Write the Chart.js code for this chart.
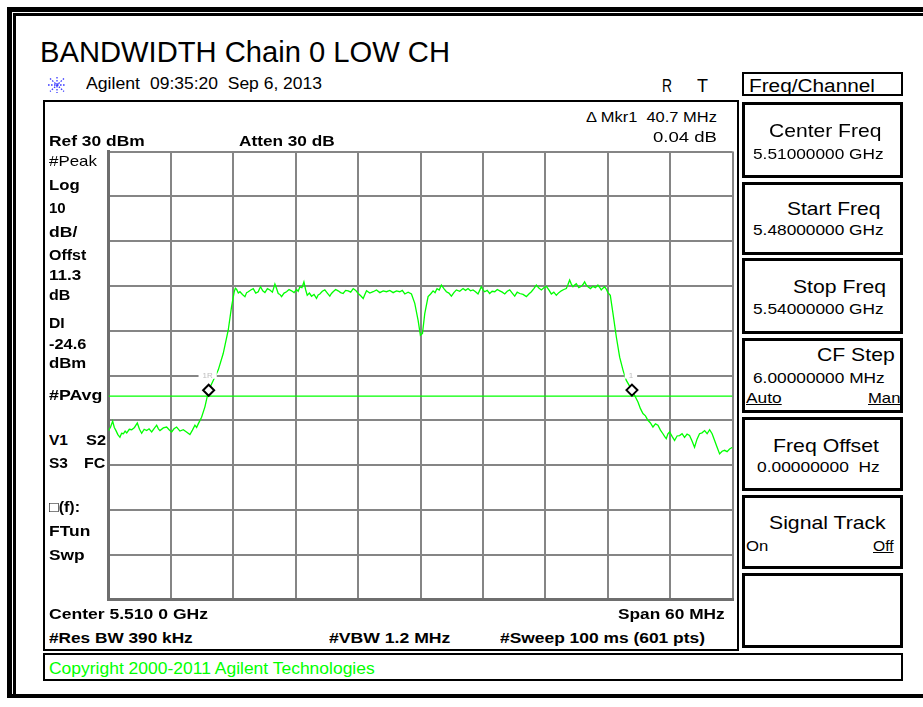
<!DOCTYPE html>
<html>
<head>
<meta charset="utf-8">
<script src="https://cdn.jsdelivr.net/npm/chart.js@4"></script>
<style>
  html, body { margin: 0; padding: 0; background: #fff; }
  body { width: 923px; height: 707px; position: relative; overflow: hidden;
         font-family: "Liberation Sans", Arial, sans-serif; }
  .blk { position: absolute; background: #000; }
  .bx { position: absolute; box-sizing: border-box; border: 2px solid #000; }
  .sk { border-width: 3px; }
  .t { position: absolute; white-space: pre; line-height: 1; transform-origin: 0 0; color: #000; }
  #plot { position: absolute; left: 100px; top: 144px; width: 640px; height: 464px; }
</style>
</head>
<body>
<!-- outer frame -->
<div class="blk" style="left:7px;top:7px;width:916px;height:5px"></div>
<div class="blk" style="left:7px;top:7px;width:5px;height:691px"></div>
<div class="blk" style="left:13px;top:13px;width:910px;height:3px"></div>
<div class="blk" style="left:13px;top:13px;width:3px;height:684px"></div>
<div class="blk" style="left:7px;top:694px;width:916px;height:4px"></div>

<!-- instrument screen, copyright strip, menu title -->
<div class="bx" style="left:43px;top:100px;width:696px;height:551px"></div>
<div class="bx" style="left:43px;top:653px;width:860px;height:28px"></div>
<div class="bx" style="left:742px;top:72px;width:161px;height:24px"></div>

<!-- Agilent logo -->
<svg style="position:absolute;left:47px;top:76px" width="20" height="18" viewBox="0 0 20 18">
  <g stroke="#3a3aff" stroke-width="1.3" stroke-dasharray="1.6 1.4" fill="none">
    <line x1="1" y1="9" x2="19" y2="9"/>
    <line x1="10" y1="1" x2="10" y2="17"/>
    <line x1="3" y1="2.5" x2="17" y2="15.5"/>
    <line x1="17" y1="2.5" x2="3" y2="15.5"/>
  </g>
</svg>

<div id="plot"><canvas id="c"></canvas></div>

<script>
// ---- instrument settings ----
const refLevelDbm = 30;
const dbPerDiv = 10;
const centerFreqMHz = 5510;
const spanMHz = 60;
const startFreqMHz = 5480;
const stopFreqMHz = 5540;
const displayLineDbm = -24.6;

// ---- markers: reference marker 1R and delta marker 1 ----
const markerFreqMHz = [5489.63, 5530.33];
const markerLevelDbm = [-23.30, -23.26];
const markerLabels = ['1R', '1'];

// ---- swept trace: [frequency MHz, level dBm] ----
const traceSamples = [
  [5480.00, -32.3], [5480.20, -31.5], [5480.40, -30.2], [5480.56, -31.6], [5480.72, -32.3],
  [5480.90, -33.2], [5481.10, -33.8], [5481.26, -32.9], [5481.43, -33.0], [5481.60, -32.4],
  [5481.75, -32.8], [5482.00, -32.0], [5482.23, -32.1], [5482.50, -31.6], [5482.77, -30.6],
  [5482.98, -32.0], [5483.19, -32.9], [5483.43, -32.0], [5483.67, -32.3], [5483.90, -31.9],
  [5484.15, -32.6], [5484.40, -31.8], [5484.63, -31.1], [5484.80, -31.9], [5484.95, -32.3],
  [5485.27, -31.7], [5485.59, -31.5], [5485.83, -32.1], [5486.07, -32.6], [5486.30, -31.9],
  [5486.55, -31.5], [5486.87, -32.4], [5487.19, -32.1], [5487.50, -32.6], [5487.83, -33.2],
  [5488.07, -32.2], [5488.31, -31.1], [5488.47, -31.6], [5488.63, -30.8], [5488.95, -29.3],
  [5489.27, -27.0], [5489.63, -23.3], [5490.07, -21.1], [5490.55, -18.8], [5491.03, -15.1],
  [5491.51, -9.9],  [5491.83, -4.7],  [5492.09, -1.3],  [5492.20, -0.5],  [5492.32, -0.8],
  [5492.48, -1.6],  [5492.64, -1.3],  [5492.88, -1.9],  [5493.12, -2.4],  [5493.28, -1.5],
  [5493.44, -1.3],  [5493.68, -0.9],  [5493.92, -0.6],  [5494.16, -1.6],  [5494.40, -1.3],
  [5494.51, -0.7],  [5494.62, -0.2],  [5494.83, -1.1],  [5495.04, -1.5],  [5495.28, -0.6],
  [5495.52, -0.9],  [5495.76, -1.4],  [5496.00, 0.4],   [5496.16, -0.6],  [5496.32, -1.7],
  [5496.48, -1.9],  [5496.64, -2.4],  [5496.88, -1.6],  [5497.12, -1.3],  [5497.36, -0.8],
  [5497.60, -1.1],  [5497.84, -1.5],  [5498.08, -0.8],  [5498.24, -1.2],  [5498.40, -0.2],
  [5498.60, -0.4],  [5498.79, 0.9],   [5498.95, -0.8],  [5499.11, -2.1],  [5499.32, -1.6],
  [5499.52, -2.3],  [5499.76, -1.9],  [5500.00, -2.8],  [5500.16, -2.0],  [5500.32, -1.8],
  [5500.56, -1.2],  [5500.80, -0.9],  [5501.04, -1.6],  [5501.28, -2.3],  [5501.44, -1.7],
  [5501.60, -1.3],  [5501.84, -0.8],  [5502.08, -1.1],  [5502.32, -1.5],  [5502.56, -1.7],
  [5502.80, -1.0],  [5503.05, -1.1],  [5503.29, -1.4],  [5503.53, -0.6],  [5503.77, -1.0],
  [5504.01, -1.7],  [5504.25, -2.2],  [5504.49, -2.8],  [5504.65, -1.9],  [5504.81, -1.1],
  [5505.13, -1.6],  [5505.45, -1.3],  [5505.77, -0.9],  [5506.09, -1.5],  [5506.41, -1.1],
  [5506.73, -1.3],  [5507.05, -1.0],  [5507.37, -1.5],  [5507.69, -1.1],  [5508.01, -1.3],
  [5508.25, -1.0],  [5508.49, -1.8],  [5508.81, -1.4],  [5509.13, -1.8],  [5509.45, -3.9],
  [5509.77, -7.7],  [5509.99, -11.0], [5510.19, -10.6], [5510.41, -6.2],  [5510.73, -2.4],
  [5510.97, -1.8],  [5511.21, -1.1],  [5511.40, -1.5],  [5511.59, -0.6],  [5511.80, -0.9],
  [5512.01, 0.2],   [5512.25, -0.6],  [5512.49, -1.3],  [5512.73, -1.6],  [5512.97, -2.3],
  [5513.21, -1.5],  [5513.45, -0.9],  [5513.77, -1.2],  [5514.09, -0.6],  [5514.33, -1.0],
  [5514.57, -0.6],  [5514.81, -1.1],  [5515.05, -0.9],  [5515.29, -1.3],  [5515.53, -1.8],
  [5515.69, -1.0],  [5515.85, -0.2],  [5516.01, -0.9],  [5516.17, -1.3],  [5516.41, -1.0],
  [5516.65, -1.7],  [5516.89, -1.2],  [5517.14, -1.3],  [5517.38, -0.8],  [5517.62, -1.1],
  [5517.86, -1.4],  [5518.10, -1.8],  [5518.34, -1.2],  [5518.58, -0.9],  [5518.82, -1.6],
  [5519.06, -2.3],  [5519.30, -1.4],  [5519.54, -1.7],  [5519.86, -1.9],  [5520.18, -2.4],
  [5520.42, -1.8],  [5520.66, -1.3],  [5520.90, -0.6],  [5521.14, 0.2],   [5521.38, -0.5],
  [5521.62, -0.9],  [5521.86, -0.4],  [5522.10, -0.1],  [5522.34, -0.9],  [5522.58, -1.8],
  [5522.82, -1.4],  [5523.06, -2.1],  [5523.30, -1.5],  [5523.54, -1.1],  [5523.78, -0.8],
  [5524.02, -0.6],  [5524.18, 0.3],   [5524.34, 1.3],   [5524.50, 0.4],   [5524.66, -0.2],
  [5524.82, 0.2],   [5524.98, 0.5],   [5525.22, -0.4],  [5525.46, -0.1],  [5525.62, 0.3],
  [5525.78, 0.9],   [5525.94, 0.2],   [5526.10, -0.2],  [5526.34, -0.6],  [5526.58, -0.1],
  [5526.82, -0.4],  [5527.06, 0.2],   [5527.22, -0.3],  [5527.38, -0.9],  [5527.54, -0.5],
  [5527.70, -0.2],  [5527.86, -0.7],  [5528.02, -1.5],  [5528.25, -2.1],  [5528.51, -6.2],
  [5528.83, -11.4], [5529.15, -15.9], [5529.47, -18.8], [5529.79, -21.1], [5530.33, -23.26],
  [5530.91, -25.9], [5531.15, -27.4], [5531.39, -28.5], [5531.63, -29.0], [5531.87, -30.0],
  [5532.11, -30.6], [5532.35, -31.5], [5532.59, -30.8], [5532.83, -31.1], [5533.07, -32.2],
  [5533.31, -33.0], [5533.47, -33.6], [5533.63, -34.1], [5533.79, -33.0], [5533.95, -32.6],
  [5534.19, -33.6], [5534.43, -34.5], [5534.67, -33.5], [5534.91, -33.4], [5535.15, -33.0],
  [5535.39, -33.8], [5535.63, -33.1], [5535.87, -33.4], [5536.11, -34.6], [5536.35, -36.0],
  [5536.59, -34.2], [5536.83, -33.0], [5537.07, -32.8], [5537.32, -32.3], [5537.56, -33.0],
  [5537.80, -32.1], [5538.04, -33.0], [5538.28, -34.5], [5538.52, -36.0], [5538.76, -37.5],
  [5539.00, -36.9], [5539.24, -36.7], [5539.48, -37.0], [5539.72, -36.4], [5540.00, -36.0]
];

// ---- text on the instrument screen ----
const ghz = mhz => (mhz / 1000).toFixed(8) + ' GHz';
const centerLabel = 'Center ' + (centerFreqMHz / 1000).toFixed(4).replace(/(\d)$/, ' $1') + ' GHz';
const markerDeltaMHz = markerFreqMHz[1] - markerFreqMHz[0];
const markerDeltaDb = markerLevelDbm[1] - markerLevelDbm[0];

// [text, left x, baseline y, font size, bold, drawn width, extra style]
const panelText = [
  ['BANDWIDTH Chain 0 LOW CH', 40, 63, 29, 0, 410],
  ['Agilent', 86, 89.5, 17, 0, 54],
  ['09:35:20  Sep 6, 2013', 150, 89.5, 16, 0, 172],
  ['R', 662, 92, 19, 0, 10],
  ['T', 697, 92, 19, 0, 11],
  ['Freq/Channel', 749, 92, 18, 0, 126],

  ['\u0394 Mkr1  ' + markerDeltaMHz.toFixed(1) + ' MHz', 586, 122, 14, 0, 131],
  [markerDeltaDb.toFixed(2) + ' dB', 652.7, 142, 14, 0, 64],
  ['Ref ' + refLevelDbm + ' dBm', 49.3, 145.7, 15, 1, 95.7],
  ['Atten 30 dB', 239.3, 145.7, 15, 1, 95.7],
  ['#Peak', 49.3, 166, 15, 0, 48],
  ['Log', 49.3, 189.3, 15, 1, 30.7],
  [String(dbPerDiv), 49.3, 212.7, 15, 1, 16.7],
  ['dB/', 49.3, 236.7, 15, 1, 28.3],
  ['Offst', 49.3, 259.3, 15, 1, 37.3],
  ['11.3', 49.3, 280, 15, 1, 32.3],
  ['dB', 49.3, 299.3, 15, 1, 21.3],
  ['DI', 49.3, 327.3, 15, 1, 15.7],
  [displayLineDbm.toFixed(1), 49.3, 348.3, 15, 1, 37.3],
  ['dBm', 49.3, 367.3, 15, 1, 37.3],
  ['#PAvg', 49.3, 399.3, 15, 1, 53.3],
  ['V1', 49.3, 445, 15, 1, 19],
  ['S2', 85.7, 445, 15, 1, 20],
  ['S3', 49.3, 467.3, 15, 1, 19],
  ['FC', 84.3, 467.3, 15, 1, 21.3],
  ['\u25A1(f):', 49.3, 512, 15, 1, 31],
  ['FTun', 49.3, 536, 15, 1, 41.3],
  ['Swp', 49.3, 559.3, 15, 1, 35.7],
  [centerLabel, 49.3, 618.3, 15, 1, 159],
  ['Span ' + spanMHz + ' MHz', 618.3, 618.3, 15, 1, 106.7],
  ['#Res BW 390 kHz', 49.3, 642.7, 15, 1, 143.7],
  ['#VBW 1.2 MHz', 329.3, 642.7, 15, 1, 121.4],
  ['#Sweep 100 ms (601 pts)', 500, 642.7, 15, 1, 205],
  ['Copyright 2000-2011 Agilent Technologies', 49.3, 675, 16, 0, 325.7, 'color:#00ff00'],

  ['Center Freq', 769.3, 137.3, 18.5, 0, 112.4],
  [ghz(centerFreqMHz), 753.3, 159, 14.5, 0, 130.7],
  ['Start Freq', 786.7, 216, 18.5, 0, 93.3],
  [ghz(startFreqMHz), 753.3, 235.7, 14.5, 0, 130.7],
  ['Stop Freq', 792.7, 294, 18.5, 0, 93],
  [ghz(stopFreqMHz), 753.3, 314, 14.5, 0, 130.7],
  ['CF Step', 817.3, 361.7, 18.5, 0, 77.7],
  [(spanMHz / 10).toFixed(8) + ' MHz', 753.3, 383.3, 14.5, 0, 131.7],
  ['Auto', 746, 403.3, 14.5, 0, 35.7, 'text-decoration:underline'],
  ['Man', 868.3, 403.3, 14.5, 0, 32.4, 'text-decoration:underline'],
  ['Freq Offset', 773.3, 452.7, 18.5, 0, 106],
  ['0.00000000  Hz', 757.3, 472.7, 14.5, 0, 122.7],
  ['Signal Track', 769.3, 530, 18.5, 0, 116.7],
  ['On', 746, 551.7, 14.5, 0, 22.3],
  ['Off', 872.7, 551.7, 14.5, 0, 20.6, 'text-decoration:underline']
];

// softkey boxes: [top, bottom]
const softkeys = [[101.5, 177.5], [181.5, 255], [258, 334], [337.5, 412.5],
                  [416.5, 490.5], [494.5, 569], [572.5, 648]];
softkeys.forEach(([top, bottom]) => {
  const d = document.createElement('div');
  d.className = 'bx sk';
  d.style.cssText = `left:742px;top:${top}px;width:161px;height:${bottom - top}px`;
  document.body.appendChild(d);
});

// place each string by its baseline and stretch it to its drawn width
panelText.forEach(([text, x, base, size, bold, width, extra]) => {
  const el = document.createElement('div');
  el.className = 't';
  el.textContent = text;
  el.style.cssText = `left:${x}px;top:${base - 0.8465 * size}px;font-size:${size}px;` +
    `font-weight:${bold ? 'bold' : 'normal'};${extra || ''}`;
  document.body.appendChild(el);
  const w = el.getBoundingClientRect().width;
  if (width && w > 0) el.style.transform = `scaleX(${width / w})`;
});

// small marker tags ("1R", "1") drawn just above each marker diamond
const markerTags = {
  id: 'markerTags',
  afterDatasetsDraw(chart) {
    const { ctx, scales: { x, y } } = chart;
    ctx.save();
    ctx.font = '8px "Liberation Sans", Arial, sans-serif';
    ctx.textAlign = 'center';
    ctx.textBaseline = 'alphabetic';
    markerFreqMHz.forEach((f, i) => {
      const px = x.getPixelForValue(f);
      const py = y.getPixelForValue(markerLevelDbm[i]);
      const label = markerLabels[i];
      const w = ctx.measureText(label).width + 8;
      const cx = px - 1;
      ctx.fillStyle = '#fff';
      ctx.fillRect(cx - w / 2, py - 19.5, w, 8);
      ctx.fillStyle = '#bdbdbd';
      ctx.fillText(label, cx, py - 12.5);
    });
    ctx.restore();
  }
};

new Chart(document.getElementById('c'), {
  type: 'line',
  data: {
    datasets: [
      {
        label: 'Markers',
        data: markerFreqMHz.map((f, i) => ({ x: f, y: markerLevelDbm[i] })),
        showLine: false,
        pointStyle: 'rectRot',
        pointRadius: 5.5,
        pointBorderWidth: 2,
        pointBorderColor: '#000',
        pointBackgroundColor: '#fff',
        order: 0
      },
      {
        label: 'Trace',
        data: traceSamples.map(([f, l]) => ({ x: f, y: l })),
        borderColor: '#00ff00',
        borderWidth: 1.3,
        pointRadius: 0,
        tension: 0,
        order: 1
      },
      {
        label: 'Display line',
        data: [{ x: startFreqMHz, y: displayLineDbm }, { x: stopFreqMHz, y: displayLineDbm }],
        borderColor: '#00ff00',
        borderWidth: 1.3,
        pointRadius: 0,
        order: 2
      }
    ]
  },
  options: {
    animation: false,
    responsive: true,
    maintainAspectRatio: false,
    events: [],
    layout: { padding: { left: 8.5, top: 7.5, right: 6.5, bottom: 8.5 } },
    plugins: { legend: { display: false }, tooltip: { enabled: false } },
    scales: {
      x: {
        type: 'linear',
        min: startFreqMHz,
        max: stopFreqMHz,
        ticks: { display: false, stepSize: spanMHz / 10 },
        grid: { color: '#858585', lineWidth: 2, drawTicks: false },
        border: { display: true, color: '#6e6e6e', width: 3 }
      },
      y: {
        type: 'linear',
        min: refLevelDbm - 10 * dbPerDiv,
        max: refLevelDbm,
        ticks: { display: false, stepSize: dbPerDiv },
        grid: { color: '#858585', lineWidth: 2, drawTicks: false },
        border: { display: true, color: '#6e6e6e', width: 3 }
      }
    }
  },
  plugins: [markerTags]
});
</script>
</body>
</html>
